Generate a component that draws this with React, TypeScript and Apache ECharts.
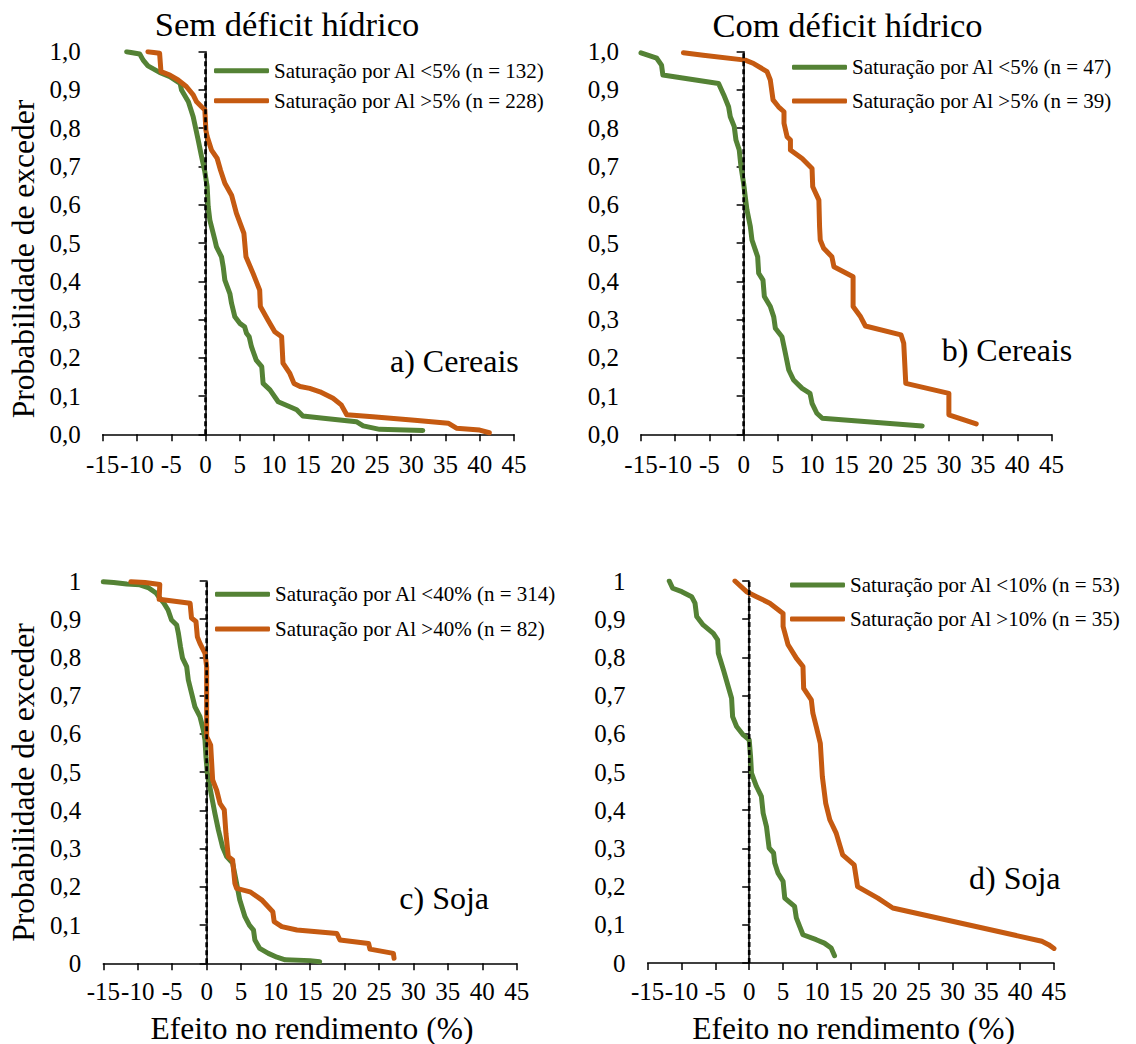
import React, { useEffect, useRef } from "react";
import * as echarts from "echarts";

// ---------- data ----------
const xTicks = [-15, -10, -5, 0, 5, 10, 15, 20, 25, 30, 35, 40, 45];
const yTicksLabelsAB = ["0,0", "0,1", "0,2", "0,3", "0,4", "0,5", "0,6", "0,7", "0,8", "0,9", "1,0"];
const yTicksLabelsCD = ["0", "0,1", "0,2", "0,3", "0,4", "0,5", "0,6", "0,7", "0,8", "0,9", "1"];

const columnTitles = ["Sem déficit hídrico", "Com déficit hídrico"];
const panelLabels = ["a) Cereais", "b) Cereais", "c) Soja", "d) Soja"];
const yAxisTitle = "Probabilidade de exceder";
const xAxisTitle = "Efeito no rendimento (%)";

const seriesNames = [
  ["Saturação por Al <5% (n = 132)", "Saturação por Al >5% (n = 228)"],
  ["Saturação por Al <5% (n = 47)", "Saturação por Al >5% (n = 39)"],
  ["Saturação por Al <40% (n = 314)", "Saturação por Al >40% (n = 82)"],
  ["Saturação por Al <10% (n = 53)", "Saturação por Al >10% (n = 35)"],
];

// reference line at zero effect
const zeroLine = [[0, 0], [0, 1]];

const aGreen = [
  [-11.5, 1.0], [-9.6, 0.994], [-9.1, 0.978], [-8.4, 0.963], [-6.7, 0.946], [-5.2, 0.935],
  [-3.7, 0.917], [-3.5, 0.9], [-2.5, 0.869], [-1.8, 0.83], [-1.07, 0.769], [-0.58, 0.726],
  [-0.1, 0.686], [0.24, 0.647], [0.39, 0.595], [0.63, 0.56], [1.36, 0.508], [1.6, 0.49],
  [2.33, 0.464], [2.58, 0.438], [2.82, 0.403], [3.55, 0.368], [3.8, 0.342], [4.28, 0.307],
  [5.0, 0.29], [5.7, 0.281], [5.98, 0.264], [6.37, 0.255], [6.7, 0.229], [7.4, 0.194],
  [8.2, 0.177], [8.4, 0.133], [9.4, 0.116], [10.6, 0.085], [12.3, 0.072], [13.3, 0.064],
  [14.2, 0.048], [17.2, 0.042], [22.0, 0.033], [23.0, 0.022], [25.4, 0.013], [31.7, 0.01],
];
const aOrange = [
  [-8.4, 1.0], [-6.7, 0.996], [-6.5, 0.948], [-5.2, 0.939], [-4.0, 0.926], [-2.8, 0.909],
  [-1.8, 0.887], [-1.3, 0.869], [-0.58, 0.856], [-0.1, 0.848], [0.05, 0.795], [0.24, 0.778],
  [0.87, 0.743], [1.7, 0.721], [2.19, 0.69], [2.82, 0.656], [3.8, 0.625], [4.5, 0.578],
  [5.6, 0.525], [5.9, 0.464], [6.95, 0.42], [7.9, 0.377], [8.0, 0.334], [9.1, 0.299],
  [10.1, 0.268], [11.1, 0.255], [11.3, 0.186], [12.3, 0.159], [12.9, 0.133], [13.8, 0.125],
  [15.2, 0.12], [16.7, 0.111], [18.6, 0.094], [19.8, 0.077], [20.6, 0.051], [24.4, 0.046],
  [30.5, 0.037], [35.4, 0.029], [36.6, 0.016], [40.0, 0.011], [41.4, 0.004],
];
const bGreen = [
  [-15.0, 0.997], [-12.7, 0.983], [-12.0, 0.965], [-11.8, 0.939], [-3.66, 0.917], [-2.9, 0.887],
  [-2.2, 0.856], [-1.95, 0.83], [-1.37, 0.804], [-1.12, 0.769], [-0.64, 0.743], [-0.39, 0.7],
  [0, 0.656], [0.24, 0.621], [0.49, 0.586], [0.98, 0.543], [1.22, 0.508], [1.71, 0.482],
  [2.05, 0.464], [2.2, 0.421], [2.83, 0.403], [3.03, 0.36], [3.9, 0.334], [4.4, 0.307],
  [4.64, 0.277], [5.6, 0.255], [6.1, 0.212], [6.6, 0.168], [7.3, 0.142], [8.55, 0.12],
  [9.7, 0.107], [10.0, 0.081], [10.7, 0.055], [11.5, 0.042], [26.1, 0.022],
];
const bOrange = [
  [-8.8, 0.997], [-5.9, 0.991], [0.24, 0.978], [1.47, 0.969], [3.42, 0.948], [3.9, 0.926],
  [4.3, 0.874], [5.1, 0.856], [5.9, 0.843], [5.9, 0.813], [6.35, 0.778], [6.84, 0.769],
  [6.84, 0.743], [8.55, 0.721], [10.0, 0.695], [10.1, 0.647], [11.0, 0.612], [11.1, 0.543],
  [11.2, 0.508], [11.7, 0.486], [12.9, 0.464], [13.2, 0.438], [16.0, 0.412], [16.0, 0.334],
  [17.1, 0.307], [17.8, 0.283], [23.0, 0.26], [23.4, 0.238], [23.7, 0.133], [30.0, 0.107],
  [30.0, 0.051], [34.0, 0.027],
];
const cGreen = [
  [-15.0, 0.998], [-13.5, 0.996], [-11.6, 0.992], [-9.7, 0.99], [-8.5, 0.983], [-7.3, 0.968],
  [-6.8, 0.955], [-6.2, 0.942], [-5.6, 0.924], [-5.1, 0.898], [-4.35, 0.885], [-4.1, 0.863],
  [-3.8, 0.828], [-3.5, 0.798], [-2.9, 0.776], [-2.66, 0.741], [-2.18, 0.706], [-1.7, 0.671],
  [-0.97, 0.645], [-0.48, 0.61], [-0.24, 0.584], [-0.1, 0.541], [0.1, 0.497], [0.73, 0.436],
  [1.2, 0.392], [1.7, 0.349], [2.3, 0.305], [2.9, 0.279], [3.77, 0.262], [4.35, 0.209],
  [4.8, 0.166], [5.56, 0.122], [6.2, 0.1], [6.8, 0.087], [7.0, 0.061], [7.7, 0.039],
  [8.95, 0.026], [10.2, 0.016], [11.4, 0.009], [15.0, 0.007], [16.4, 0.004],
];
const cOrange = [
  [-11.0, 0.998], [-8.95, 0.996], [-6.8, 0.991], [-6.9, 0.952], [-2.4, 0.942], [-2.2, 0.903],
  [-1.55, 0.894], [-1.35, 0.854], [-0.97, 0.837], [-0.24, 0.811], [0, 0.776], [0, 0.593],
  [0.58, 0.571], [0.87, 0.48], [1.45, 0.453], [1.94, 0.418], [2.56, 0.401], [2.8, 0.34],
  [3.14, 0.279], [3.77, 0.27], [4.1, 0.209], [4.35, 0.196], [6.3, 0.187], [7.98, 0.166],
  [9.6, 0.135], [9.8, 0.109], [10.9, 0.096], [13.1, 0.087], [18.9, 0.078], [19.35, 0.061],
  [23.5, 0.052], [23.7, 0.037], [27.1, 0.026], [27.2, 0.013],
];
const dGreen = [
  [-11.8, 1.0], [-11.3, 0.981], [-9.95, 0.972], [-8.5, 0.959], [-8.0, 0.942], [-7.75, 0.907],
  [-6.8, 0.885], [-5.3, 0.863], [-4.66, 0.846], [-4.56, 0.811], [-3.8, 0.767], [-3.1, 0.724],
  [-2.6, 0.693], [-2.45, 0.645], [-1.86, 0.619], [-0.88, 0.597], [0, 0.584], [0.2, 0.541],
  [0.34, 0.497], [1.08, 0.462], [1.8, 0.436], [2.06, 0.392], [2.55, 0.357], [2.94, 0.301],
  [3.6, 0.288], [3.77, 0.262], [4.26, 0.235], [5.0, 0.214], [5.25, 0.17], [6.7, 0.148],
  [6.96, 0.118], [7.45, 0.096], [7.94, 0.074], [9.9, 0.061], [11.1, 0.052], [12.1, 0.039],
  [12.6, 0.019],
];
const dOrange = [
  [-2.1, 1.0], [-0.39, 0.972], [1.08, 0.959], [3.04, 0.942], [5.0, 0.915], [5.0, 0.881],
  [5.74, 0.833], [6.96, 0.798], [7.94, 0.776], [8.04, 0.719], [9.17, 0.689], [9.4, 0.654],
  [9.9, 0.619], [10.5, 0.575], [10.8, 0.488], [11.3, 0.418], [11.9, 0.375], [12.84, 0.34],
  [13.8, 0.283], [15.5, 0.257], [16.0, 0.2], [19.0, 0.17], [21.2, 0.144], [43.2, 0.057],
  [44.2, 0.048], [45.0, 0.038],
];

const panelData = [
  [aGreen, aOrange],
  [bGreen, bOrange],
  [cGreen, cOrange],
  [dGreen, dOrange],
];

// ---------- styling ----------
const GREEN = "#548235";
const ORANGE = "#C55A11";
const FONT = "'Liberation Serif', 'Times New Roman', serif";

const grids = [
  { left: 102.7, top: 51.7, width: 411.3, height: 382.6 },
  { left: 641, top: 51.7, width: 410.5, height: 382.6 },
  { left: 103.3, top: 581, width: 413.4, height: 382.3 },
  { left: 647.6, top: 581, width: 406.4, height: 382 },
];

const legendPos = [
  { left: 214, top: 60.2, itemGap: 9 },
  { left: 792, top: 56.8, itemGap: 12.7 },
  { left: 215, top: 583.8, itemGap: 13.7 },
  { left: 790, top: 574.5, itemGap: 13 },
];

const panelLabelPos = [
  { x: 390, y: 361 },
  { x: 941.7, y: 350 },
  { x: 399.3, y: 897.5 },
  { x: 969, y: 878 },
];

export default function App() {
  const ref = useRef<HTMLDivElement>(null);

  useEffect(() => {
    if (!ref.current) return;
    const chart = echarts.init(ref.current, undefined, { renderer: "svg" });

    const xAxes = grids.map((_, i) => ({
      type: "value",
      gridIndex: i,
      min: -15,
      max: 45,
      interval: 5,
      axisLine: { show: true, onZero: false, lineStyle: { color: "#000", width: 1.5 } },
      axisTick: { show: true, length: 7, lineStyle: { color: "#000", width: 1.5 } },
      splitLine: { show: false },
      axisLabel: {
        color: "#000",
        fontFamily: FONT,
        fontSize: 25,
        margin: i < 2 ? 18 : 16,
        formatter: (v: number) => (xTicks.includes(v) ? String(v) : ""),
      },
    }));

    const yAxes = grids.map((_, i) => ({
      type: "value",
      gridIndex: i,
      min: 0,
      max: 1,
      interval: 0.1,
      axisLine: { show: true, lineStyle: { color: "#000", width: 1.5 } },
      axisTick: { show: true, length: 7, lineStyle: { color: "#000", width: 1.5 } },
      splitLine: { show: false },
      axisLabel: {
        color: "#000",
        fontFamily: FONT,
        fontSize: 25,
        margin: 22,
        formatter: (v: number) => {
          const idx = Math.round(v * 10);
          return (i < 2 ? yTicksLabelsAB : yTicksLabelsCD)[idx];
        },
      },
    }));

    const series: any[] = [];
    panelData.forEach((pair, i) => {
      series.push({
        type: "line",
        name: seriesNames[i][0],
        xAxisIndex: i,
        yAxisIndex: i,
        data: pair[0],
        showSymbol: false,
        symbol: "none",
        color: GREEN,
        lineStyle: { color: GREEN, width: 5, cap: "round", join: "round" },
        z: 2,
      });
      series.push({
        type: "line",
        name: seriesNames[i][1],
        xAxisIndex: i,
        yAxisIndex: i,
        data: pair[1],
        showSymbol: false,
        symbol: "none",
        color: ORANGE,
        lineStyle: { color: ORANGE, width: 5, cap: "round", join: "round" },
        z: 3,
      });
      series.push({
        type: "line",
        name: "zero-" + i,
        xAxisIndex: i,
        yAxisIndex: i,
        data: zeroLine,
        showSymbol: false,
        symbol: "none",
        silent: true,
        color: "#000",
        lineStyle: { color: "#000", width: 2.6, type: [5, 3] },
        z: 4,
      });
    });

    const legends = legendPos.map((p, i) => ({
      orient: "vertical",
      left: p.left,
      top: p.top,
      padding: 0,
      itemGap: p.itemGap,
      itemWidth: 55,
      itemHeight: 5,
      icon: "roundRect",
      data: seriesNames[i],
      selectedMode: false,
      textStyle: { color: "#000", fontFamily: FONT, fontSize: 21, lineHeight: 21 },
    }));

    const textEl = (text: string, x: number, y: number, size: number, align: string, rot = 0) => ({
      type: "text",
      x,
      y,
      rotation: rot,
      style: {
        text,
        fill: "#000",
        fontFamily: FONT,
        fontSize: size,
        textAlign: align,
        textVerticalAlign: "middle",
      },
    });

    const graphics = [
      textEl(columnTitles[0], 287, 24, 34.5, "center"),
      textEl(columnTitles[1], 847.5, 24.5, 34.5, "center"),
      textEl(yAxisTitle, 23.5, 259, 31.5, "center", Math.PI / 2),
      textEl(yAxisTitle, 23.5, 782.5, 31.5, "center", Math.PI / 2),
      textEl(xAxisTitle, 312, 1028, 31.5, "center"),
      textEl(xAxisTitle, 853.7, 1028, 31.5, "center"),
      ...panelLabels.map((t, i) => textEl(t, panelLabelPos[i].x, panelLabelPos[i].y, 32, "left")),
    ];

    chart.setOption({
      animation: false,
      backgroundColor: "#fff",
      grid: grids.map((g) => ({ ...g, containLabel: false })),
      xAxis: xAxes,
      yAxis: yAxes,
      legend: legends,
      series,
      graphic: graphics,
    });

    return () => chart.dispose();
  }, []);

  return (
    <div
      ref={ref}
      style={{ position: "absolute", left: 0, top: 0, width: 1136, height: 1044 }}
    />
  );
}
